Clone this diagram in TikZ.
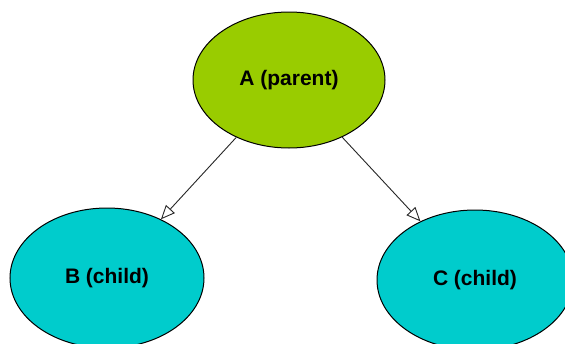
\documentclass[tikz,border=0pt]{standalone}
\usepackage{fontspec}
\setmainfont{Liberation Sans}
\usetikzlibrary{shapes.geometric,arrows.meta}
\definecolor{parentgreen}{HTML}{99CC00}
\definecolor{childcyan}{HTML}{00CCCC}
\begin{document}
\begin{tikzpicture}[x=1pt,y=1pt,
  nodeell/.style={ellipse,draw=black,line width=1pt,inner sep=0pt,
    font=\fontsize{21}{25}\selectfont\bfseries},
  edge/.style={line width=0.9pt,draw=black!85,
    -{Triangle[open,length=14pt,width=12pt,line width=0.9pt]}}]
\useasboundingbox (0,0) rectangle (565,-343);
\clip (0,0) rectangle (565,-343);
\fill[white] (0,0) rectangle (565,-343);
\node[nodeell,fill=parentgreen,minimum width=192pt,minimum height=136pt] (A) at (289,-80) {A (parent)};
\node[nodeell,fill=childcyan,minimum width=194pt,minimum height=140pt] (B) at (107,-278) {B (child)};
\node[nodeell,fill=childcyan,minimum width=196pt,minimum height=140pt] (C) at (475,-280) {C (child)};
\draw[edge] (A) -- (B);
\draw[edge] (A) -- (C);
\end{tikzpicture}
\end{document}
